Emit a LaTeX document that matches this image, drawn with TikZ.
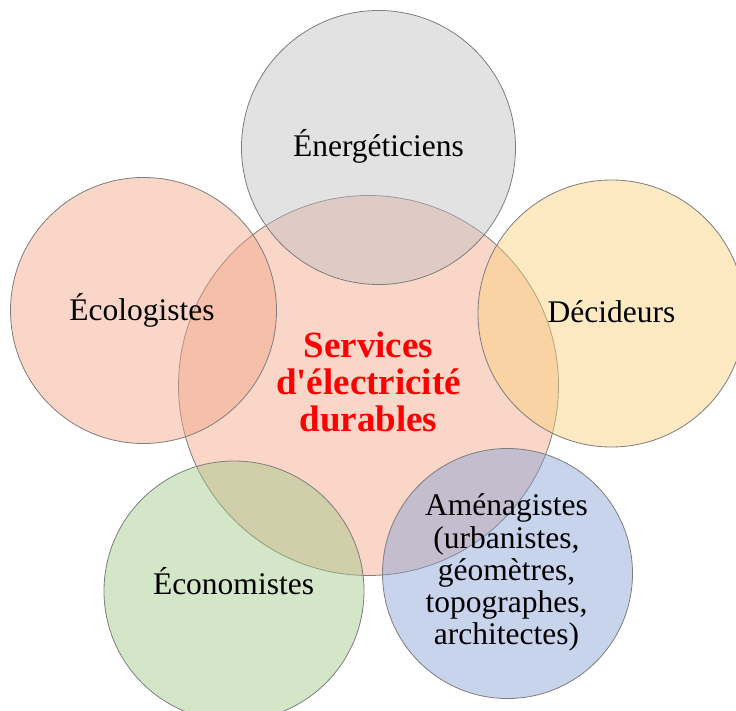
\documentclass[tikz,border=0pt]{standalone}
\usepackage{fontspec}
\setmainfont{Liberation Serif}[Ligatures=TeXOff]
\definecolor{salmon}{RGB}{242,164,133}
\definecolor{greyfill}{RGB}{191,191,191}
\definecolor{yellowfill}{RGB}{251,208,122}
\definecolor{greenfill}{RGB}{159,199,133}
\definecolor{bluefill}{RGB}{133,159,213}
\definecolor{rimgrey}{RGB}{125,125,125}
\begin{document}
\begin{tikzpicture}[x=1pt,y=-1pt,
  bubble/.style={circle, draw=rimgrey, line width=0.8pt, fill opacity=0.45, inner sep=0pt},
  lbl/.style={font=\fontsize{31.5}{32.3}\selectfont, text=black, inner sep=0pt, align=center},
  ctr/.style={font=\fontsize{37}{37}\selectfont\bfseries, text=red, inner sep=0pt, align=center}]
\useasboundingbox (0,0) rectangle (736,711);
\clip (0,0) rectangle (736,711);
\node[bubble, fill=salmon, minimum size=380pt] (c) at (368.5,385.5) {};
\node[bubble, fill=greyfill, minimum size=274pt] (top) at (378.5,147.5) {};
\node[bubble, fill=salmon, minimum size=266pt] (left) at (143.5,310.5) {};
\node[bubble, fill=yellowfill, minimum size=267pt] (right) at (611.5,313.5) {};
\node[bubble, fill=greenfill, minimum size=260pt] (botl) at (234,591) {};
\node[bubble, fill=bluefill, minimum size=250pt] (botr) at (507.5,573.5) {};
\node[lbl, anchor=base] (t1) at (378.5,157) {Énergéticiens};
\node[lbl, anchor=base] (t2) at (142,320) {Écologistes};
\node[lbl, anchor=base] (t3) at (611.5,323) {Décideurs};
\node[lbl, anchor=base] (t4) at (233.5,594) {Économistes};
\node[lbl] (t5) at (506.5,572.7) {Aménagistes\\(urbanistes,\\géomètres,\\topographes,\\architectes)};
\node[ctr] (tc) at (368.5,382) {Services\\d'électricité\\durables};
\end{tikzpicture}
\end{document}
